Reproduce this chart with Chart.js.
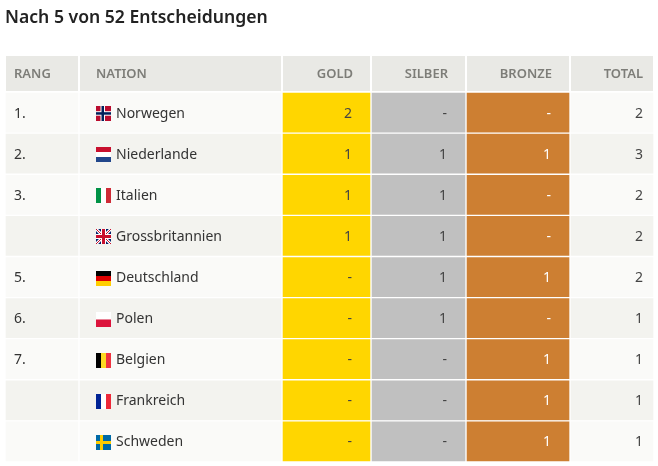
<!DOCTYPE html>
<html>
<head>
<meta charset="utf-8">
<script src="https://cdn.jsdelivr.net/npm/chart.js@4.4.1/dist/chart.umd.min.js"></script>
<style>
  html, body { margin: 0; padding: 0; background: #fff; }
  #wrap { width: 658px; height: 466px; }
</style>
</head>
<body>
<div id="wrap"><canvas id="medalChart"></canvas></div>
<script>
// Daten des Medaillenspiegels
var headers = ['RANG', 'NATION', 'GOLD', 'SILBER', 'BRONZE', 'TOTAL'];
var ranks = ['1.', '2.', '3.', '', '5.', '6.', '7.', '', ''];
var nations = ['Norwegen', 'Niederlande', 'Italien', 'Grossbritannien', 'Deutschland', 'Polen', 'Belgien', 'Frankreich', 'Schweden'];
var flags = ['no', 'nl', 'it', 'gb', 'de', 'pl', 'be', 'fr', 'se'];
var gold = [2, 1, 1, 1, 0, 0, 0, 0, 0];
var silver = [0, 1, 1, 1, 1, 1, 0, 0, 0];
var bronze = [0, 1, 0, 0, 1, 0, 1, 1, 1];
var total = [2, 3, 2, 2, 2, 1, 1, 1, 1];

// Layout: Spaltengrenzen in Pixeln auf der x-Achse
var colEdges = [5, 79, 282, 371, 466, 570, 654];
var FONT = '"Noto Sans", sans-serif';

var rowLight = '#fafaf8';
var rowDark = '#f3f3ef';
var stripes = nations.map(function (n, i) { return i % 2 === 0 ? rowLight : rowDark; });
var colColors = [stripes, stripes, '#ffd600', '#c0c0c0', '#cd7f32', stripes];

var valueCols = [null, null, gold, silver, bronze, total];

/**
 * Zeichnet eine kleine Flagge (quadratisch)
 */
function drawFlag(ctx, code, x, y, s) {
    var t = s / 3;
    ctx.save();
    if (code === 'no') {
        ctx.fillStyle = '#ba0c2f'; ctx.fillRect(x, y, s, s);
        ctx.fillStyle = '#fff'; ctx.fillRect(x + 4.5, y, 4.5, s); ctx.fillRect(x, y + 5.2, s, 4.5);
        ctx.fillStyle = '#00205b'; ctx.fillRect(x + 5.5, y, 2.5, s); ctx.fillRect(x, y + 6.2, s, 2.5);
    } else if (code === 'nl') {
        ctx.fillStyle = '#c8102e'; ctx.fillRect(x, y, s, t);
        ctx.fillStyle = '#fff'; ctx.fillRect(x, y + t, s, t);
        ctx.fillStyle = '#21468b'; ctx.fillRect(x, y + 2 * t, s, t);
    } else if (code === 'it') {
        ctx.fillStyle = '#009246'; ctx.fillRect(x, y, t, s);
        ctx.fillStyle = '#fff'; ctx.fillRect(x + t, y, t, s);
        ctx.fillStyle = '#ce2b37'; ctx.fillRect(x + 2 * t, y, t, s);
    } else if (code === 'de') {
        ctx.fillStyle = '#000'; ctx.fillRect(x, y, s, t);
        ctx.fillStyle = '#dd0000'; ctx.fillRect(x, y + t, s, t);
        ctx.fillStyle = '#ffce00'; ctx.fillRect(x, y + 2 * t, s, t);
    } else if (code === 'pl') {
        ctx.fillStyle = '#ffffff'; ctx.fillRect(x, y, s, s / 2);
        ctx.fillStyle = '#dc143c'; ctx.fillRect(x, y + s / 2, s, s / 2);
    } else if (code === 'be') {
        ctx.fillStyle = '#000'; ctx.fillRect(x, y, t, s);
        ctx.fillStyle = '#fdda24'; ctx.fillRect(x + t, y, t, s);
        ctx.fillStyle = '#ef3340'; ctx.fillRect(x + 2 * t, y, t, s);
    } else if (code === 'fr') {
        ctx.fillStyle = '#002395'; ctx.fillRect(x, y, t, s);
        ctx.fillStyle = '#fff'; ctx.fillRect(x + t, y, t, s);
        ctx.fillStyle = '#ed2939'; ctx.fillRect(x + 2 * t, y, t, s);
    } else if (code === 'se') {
        ctx.fillStyle = '#006aa7'; ctx.fillRect(x, y, s, s);
        ctx.fillStyle = '#fecc00'; ctx.fillRect(x + 4, y, 3, s); ctx.fillRect(x, y + 6, s, 3);
    } else if (code === 'gb') {
        ctx.fillStyle = '#012169'; ctx.fillRect(x, y, s, s);
        ctx.beginPath(); ctx.rect(x, y, s, s); ctx.clip();
        ctx.strokeStyle = '#fff'; ctx.lineWidth = 3;
        ctx.beginPath(); ctx.moveTo(x, y); ctx.lineTo(x + s, y + s); ctx.moveTo(x + s, y); ctx.lineTo(x, y + s); ctx.stroke();
        ctx.strokeStyle = '#c8102e'; ctx.lineWidth = 1;
        ctx.beginPath(); ctx.moveTo(x, y); ctx.lineTo(x + s, y + s); ctx.moveTo(x + s, y); ctx.lineTo(x, y + s); ctx.stroke();
        ctx.fillStyle = '#fff'; ctx.fillRect(x + s / 2 - 2.5, y, 5, s); ctx.fillRect(x, y + s / 2 - 2.5, s, 5);
        ctx.fillStyle = '#c8102e'; ctx.fillRect(x + s / 2 - 1.5, y, 3, s); ctx.fillRect(x, y + s / 2 - 1.5, s, 3);
    }
    ctx.restore();
}

// Kopfzeile und Zellentexte
var tablePlugin = {
    id: 'tableText',
    beforeDatasetsDraw: function (chart) {
        var ctx = chart.ctx;
        var xs = chart.scales.x;
        var top = chart.chartArea.top;
        ctx.save();
        for (var c = 0; c < headers.length; c++) {
            var l = xs.getPixelForValue(colEdges[c]);
            var r = xs.getPixelForValue(colEdges[c + 1]);
            ctx.fillStyle = '#e9e9e5';
            ctx.fillRect(l + 1, top - 36, r - l - 2, 35);
            ctx.fillStyle = '#7d7d78';
            ctx.font = '600 13px ' + FONT;
            ctx.textBaseline = 'middle';
            if (c < 2) {
                ctx.textAlign = 'left';
                ctx.fillText(headers[c], l + (c === 0 ? 9 : 17), top - 18);
            } else {
                ctx.textAlign = 'right';
                ctx.fillText(headers[c], r - (c === 5 ? 11 : 18), top - 18);
            }
        }
        ctx.restore();
    },
    afterDatasetsDraw: function (chart) {
        var ctx = chart.ctx;
        var xs = chart.scales.x;
        var ys = chart.scales.y;
        ctx.save();
        ctx.font = '14px ' + FONT;
        ctx.textBaseline = 'middle';
        for (var i = 0; i < nations.length; i++) {
            var y = ys.getPixelForValue(i) + 1;
            ctx.fillStyle = '#333';
            ctx.textAlign = 'left';
            ctx.fillText(ranks[i], xs.getPixelForValue(colEdges[0]) + 9, y);
            drawFlag(ctx, flags[i], xs.getPixelForValue(colEdges[1]) + 17, Math.round(y - 7.5), 15);
            ctx.fillText(nations[i], xs.getPixelForValue(colEdges[1]) + 37, y);
            ctx.textAlign = 'right';
            for (var c = 2; c < 6; c++) {
                var v = valueCols[c][i];
                ctx.fillStyle = c === 4 ? '#fff' : '#444';
                ctx.fillText(v === 0 ? '-' : String(v), xs.getPixelForValue(colEdges[c + 1]) - (c === 5 ? 11 : 19), y);
            }
        }
        ctx.restore();
    }
};

var datasets = headers.map(function (h, c) {
    return {
        label: h,
        data: nations.map(function () { return [colEdges[c], colEdges[c + 1]]; }),
        backgroundColor: colColors[c],
        borderColor: '#ffffff',
        borderWidth: 1,
        borderSkipped: false,
        grouped: false,
        barPercentage: 1,
        categoryPercentage: 1
    };
});

var ctx = document.getElementById('medalChart').getContext('2d');
var medalChart = new Chart(ctx, {
    type: 'bar',
    data: { labels: nations, datasets: datasets },
    plugins: [tablePlugin],
    options: {
        indexAxis: 'y',
        responsive: true,
        maintainAspectRatio: false,
        animation: false,
        events: [],
        layout: { padding: { left: 5, right: 4, top: 0, bottom: 4 } },
        scales: {
            x: { type: 'linear', min: 5, max: 654, display: false },
            y: { display: false }
        },
        plugins: {
            legend: { display: false },
            tooltip: { enabled: false },
            title: {
                display: true,
                text: 'Nach 5 von 52 Entscheidungen',
                align: 'start',
                color: '#222222',
                font: { family: FONT, size: 17.6, weight: '600', lineHeight: 1.2 },
                padding: { top: 7.5, bottom: 63.4 }
            }
        }
    }
});
</script>
</body>
</html>
